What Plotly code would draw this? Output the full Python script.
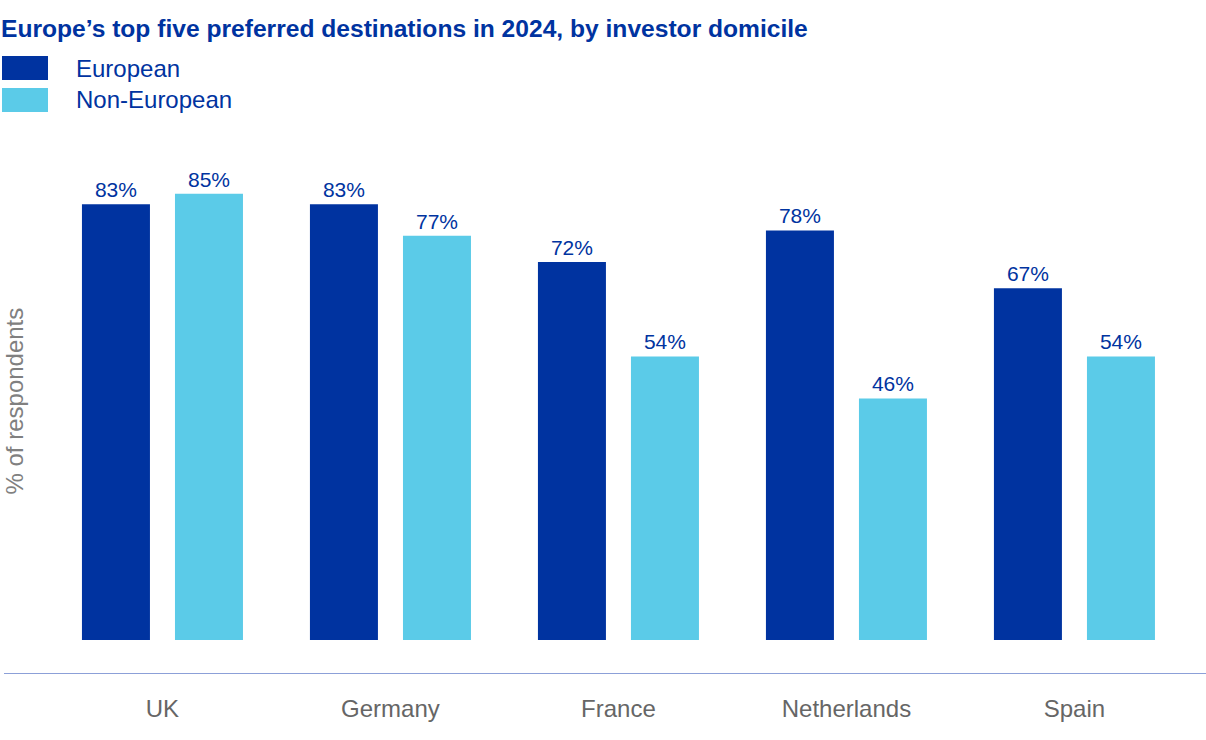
import plotly.graph_objects as go

categories = ["UK", "Germany", "France", "Netherlands", "Spain"]
european = [83, 83, 72, 78, 67]
non_european = [85, 77, 54, 46, 54]
series_names = ["European", "Non-European"]
colors = ["#0033A0", "#5BCBE8"]

W, H = 1206, 740
ml, mr, mt, mb = 4, 0, 130, 67
PW, PH = W - ml - mr, H - mt - mb

fig = go.Figure()
for name, vals, col in zip(series_names, [european, non_european], colors):
    fig.add_trace(go.Bar(
        x=categories, y=vals, name=name, marker_color=col,
        marker_line_width=0,
        text=[f"{v}%" for v in vals], textposition="outside",
        textfont=dict(family="Arial, Liberation Sans", size=21, color="#0033A0"),
        cliponaxis=False, showlegend=False,
    ))

fig.update_layout(
    width=W, height=H,
    margin=dict(l=ml, r=mr, t=mt, b=mb),
    plot_bgcolor="white", paper_bgcolor="white",
    barmode="group", bargap=0.184, bargroupgap=0.269,
    font=dict(family="Arial, Liberation Sans"),
    title=dict(text="<b>Europe’s top five preferred destinations in 2024, by investor domicile</b>",
               x=0.0, xref="container", xanchor="left", y=1 - 28 / H, yanchor="middle",
               pad=dict(l=1),
               font=dict(size=24.6, color="#0033A0", family="Arial, Liberation Sans")),
    xaxis=dict(range=[-0.695, 4.577], showline=True, linecolor="#8CA0D8", linewidth=1,
               showgrid=False, ticks="", ticklabelstandoff=14,
               tickfont=dict(size=24, color="#666666")),
    yaxis=dict(range=[-6.29, 97.14], visible=False, showgrid=False, zeroline=False),
)

# y-axis title
fig.add_annotation(text="% of respondents", textangle=-90, xref="paper", yref="paper",
                   x=(14 - ml) / PW, y=0.5, xanchor="center", yanchor="middle",
                   showarrow=False, font=dict(size=24, color="#808080"))

# legend patches and labels
for i, (name, col) in enumerate(zip(series_names, colors)):
    yc = 68 + 32 * i
    fig.add_shape(type="rect", xref="paper", yref="paper",
                  x0=(2 - ml) / PW, x1=(48 - ml) / PW,
                  y0=(H - mb - (yc + 12)) / PH, y1=(H - mb - (yc - 12)) / PH,
                  fillcolor=col, line_width=0)
    fig.add_annotation(text=name, xref="paper", yref="paper",
                       x=(74 - ml) / PW, y=(H - mb - yc) / PH,
                       xanchor="left", yanchor="middle", showarrow=False,
                       font=dict(size=24, color="#0033A0"))

fig.write_html("out.html", config={"displayModeBar": False},
               post_script="document.body.style.margin='0px';")
